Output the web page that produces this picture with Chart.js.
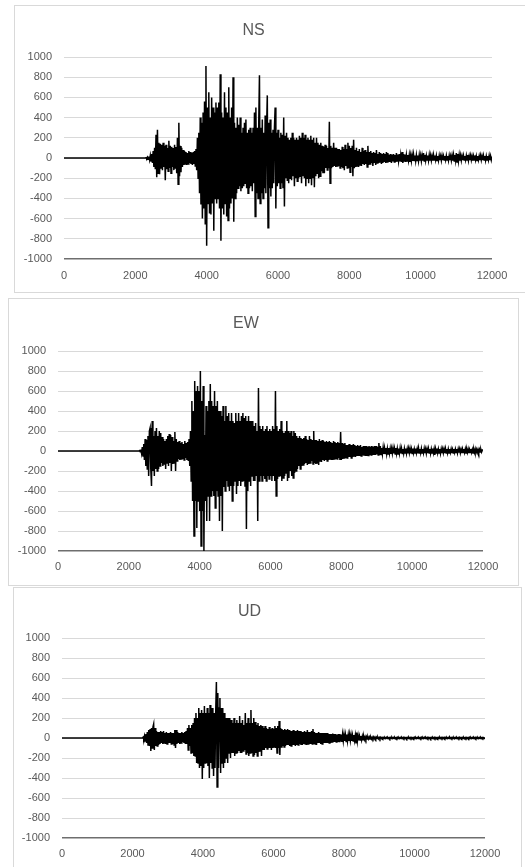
<!DOCTYPE html>
<html><head><meta charset="utf-8">
<script src="https://cdn.jsdelivr.net/npm/chart.js@4"></script>
<style>
html,body{margin:0;padding:0;background:#fff;overflow:hidden;width:525px;height:867px;}
.box{position:absolute;border:1px solid #d9d9d9;background:#fff;}
.box canvas{display:block;}
</style></head><body>
<div class="box" style="left:14px;top:5px;"><canvas id="c1" width="520" height="286"></canvas></div>
<div class="box" style="left:8px;top:298px;"><canvas id="c2" width="509" height="286"></canvas></div>
<div class="box" style="left:13px;top:587px;"><canvas id="c3" width="507" height="286"></canvas></div>
<script>
// ---- data ----
const titles = ["NS", "EW", "UD"];
const xTickRange = [0, 12000, 2000];     // min, max, step
const yTickRange = [-1000, 1000, 200];   // min, max, step
const sampleStart = 2280;                // time of first listed sample (before it the trace is 0)
const sampleStep = 20;                   // time between listed samples

const nsValues = [
  0, 3, -5, 8, -12, 15, -20, 25, -30, 40,
  -50, 70, -90, 100, -110, 230, -190, 280, -150, 150,
  -160, 140, -100, 130, -120, 150, -90, 120, -220, 130,
  -110, 100, -130, 170, -100, 120, -150, 110, -90, 100,
  -120, 130, -100, 110, -150, 200, -260, 350, -180, 120,
  -140, 100, -90, 80, -70, 70, -60, 60, -70, 50,
  -60, 70, -50, 60, -60, 50, -70, 60, -60, 70,
  -80, 90, -120, 200, -200, 250, -350, 400, -460, 350,
  -600, 450, -500, 560, -650, 910, -870, 500, -450, 650,
  -550, 400, -560, 600, -450, 500, -720, 450, -400, 550,
  -450, 500, -400, 550, -500, 830, -820, 450, -500, 400,
  -560, 650, -450, 500, -580, 450, -620, 700, -500, 400,
  -450, 500, -400, 800, -630, 350, -400, 300, -350, 400,
  -300, 330, -280, 400, -330, 250, -300, 300, -280, 350,
  -250, 380, -300, 250, -350, 280, -300, 300, -280, 250,
  -330, 300, -250, 450, -580, 500, -350, 300, -400, 350,
  820, -450, 300, -350, 380, -400, 250, -300, 420, -350,
  300, 620, -690, 350, -300, 380, -380, 250, -300, 280,
  -250, 300, 500, -500, 250, -280, 280, -250, 200, -300,
  250, -250, 230, -300, 400, -480, 220, -200, 250, -220,
  200, -250, 180, -200, 200, -220, 250, -180, 200, -280,
  180, -200, 200, -230, 180, -200, 220, -180, 200, -250,
  250, -180, 200, -200, 230, -280, 180, -200, 200, -250,
  180, -200, 220, -270, 180, -200, 200, -290, 150, -180,
  200, -150, 150, -200, 130, -180, 150, -130, 120, -150,
  110, -150, 130, -100, 120, -120, 100, -100, 360, -250,
  120, -100, 100, -90, 150, -80, 100, -90, 100, -80,
  90, -80, 90, -100, 80, -90, 110, -100, 90, -120,
  130, -80, 90, -100, 150, -100, 120, -140, 100, -90,
  120, -180, 180, -100, 80, -90, 100, -80, 70, -90,
  90, -70, 60, -80, 100, -60, 70, -70, 80, -60,
  60, -90, 120, -70, 60, -60, 70, -50, 50, -80,
  60, -50, 50, -70, 80, -50, 40, -50, 60, -40,
  50, -60, 40, -50, 50, -40, 40, -50, 60, -40,
  50, -40, 35, -40, 40, -50, 35, -35, 40, -40,
  30, -40, 50, -30, 35, -30, 40, -35, 30, -40,
  60, -50, 40, -30, 35, -40, 30, -30, 30, -25,
  30, -40, 25, -30, 30, -30, 35, -25, 25, -30,
  30, -25, 25, -30, 30, -25, 25, -30, 25, -25,
  50, -30, 30, -25, 25, -20, 25, -25, 30, -25,
  25, -25, 20, -25, 30, -20, 25, -20, 25, -25,
  20, -25, 25, -20, 20, -25, 25, -20, 20, -20,
  20, -20, 25, -20, 20, -25, 25, -20, 20, -25,
  25, -25, 30, -30, 30, -25, 50, -40, 40, -30,
  30, -25, 25, -25, 20, -20, 25, -20, 20, -20,
  25, -20, 30, -25, 20, -20, 25, -20, 20, -25,
  20, -20, 25, -20, 20, -25, 20, -20, 20, -20,
  25, -20, 20, -20, 25, -20, 20, -25, 20, -20,
  20, -20, 25, -20, 20, -20, 15
];

const ewValues = [
  0, 5, -8, 15, -25, 40, -50, 70, -90, 120,
  -150, 110, -180, 150, -250, 200, 230, -180, -350, 300,
  -200, 150, -250, 200, -180, 230, -200, 150, -180, 200,
  -150, 180, -120, 140, -150, 120, -130, 100, -180, 120,
  -120, 150, -150, 170, -120, 160, -200, 140, -130, 100,
  -120, 190, -200, 120, -100, 90, -80, 100, -90, 80,
  -80, 90, -80, 70, -90, 100, -70, 80, -90, 90,
  -100, 120, -150, 200, -300, 500, -500, 400, -850, 700,
  -500, 600, -770, 650, -500, 600, -600, 800, -950, 500,
  -600, 650, -1000, 160, -500, 450, -700, 400, -450, 500,
  -700, 670, -450, 500, -400, 450, -450, 600, -570, 450,
  -400, 500, -450, 400, -700, 400, -450, 350, -800, 450,
  -360, 300, -400, 450, -300, 350, -350, 380, -400, 300,
  -350, 380, -500, 300, -350, 280, -300, 380, -430, 300,
  -350, 380, -300, 300, -350, 350, -300, 380, -300, 330,
  -350, 350, -780, 300, -400, 350, -300, 300, -350, 300,
  -250, 300, -300, 250, -300, 280, -250, 200, -700, 630,
  -300, 250, -250, 220, -300, 250, -250, 200, -280, 220,
  -300, 250, -250, 200, -280, 220, -250, 200, -300, 250,
  -250, 220, -300, 600, -450, 250, -280, 200, -250, 220,
  -250, 300, -300, 200, -270, 180, -250, 200, -220, 300,
  -300, 200, -270, 180, -200, 200, -250, 150, -270, 200,
  -220, 180, -200, 150, -180, 130, -150, 150, -180, 130,
  -150, 120, -140, 130, -130, 150, -120, 120, -140, 110,
  -130, 150, -120, 120, -100, 110, -130, 200, -120, 110,
  -130, 110, -120, 100, -140, 120, -100, 100, -110, 110,
  -90, 100, -100, 90, -90, 100, -100, 90, -90, 100,
  -80, 90, -90, 80, -90, 100, -80, 90, -80, 80,
  -80, 90, -70, 80, -90, 190, -90, 80, -80, 70,
  -70, 80, -70, 60, -70, 60, -60, 70, -60, 60,
  -70, 60, -60, 70, -50, 60, -60, 50, -50, 60,
  -50, 50, -50, 60, -50, 40, -45, 50, -40, 50,
  -50, 50, -50, 40, -45, 50, -40, 45, -40, 50,
  -40, 45, -40, 50, -40, 50, -35, 40, -40, 80,
  -40, 50, -35, 30, -30, 35, -30, 30, -25, 30,
  -30, 25, -30, 30, -25, 25, -30, 25, -25, 30,
  -25, 25, -30, 30, -25, 25, -30, 25, -25, 30,
  -25, 25, -25, 20, -25, 25, -20, 25, -25, 20,
  -25, 25, -20, 25, -25, 20, -25, 25, -20, 20,
  -20, 25, -20, 20, -25, 30, -20, 20, -20, 25,
  -20, 20, -20, 25, -20, 20, -25, 20, -20, 25,
  -20, 20, -25, 20, -20, 25, -20, 20, -40, 20,
  -20, 25, -20, 20, -20, 20, -25, 20, -20, 20,
  -20, 20, -20, 25, -20, 20, -20, 20, -20, 20,
  -15, 20, -20, 15, -20, 20, -15, 20, -15, 20,
  -20, 20, -15, 20, -20, 15, -20, 20, -15, 20,
  -15, 20, -20, 15, -15, 20, -20, 15, -15, 20,
  -15, 15, -20, 15, -15, 20, -15, 15, -15, 15,
  -15, 15, -10, 15, -10, 10, 10
];

const udValues = [
  0, 8, -12, 20, -30, 40, -50, 60, -70, 80,
  -80, 90, -130, 100, -100, 110, 140, -120, 100, -80,
  70, -80, 60, -70, 60, -60, 70, -50, 60, -60,
  70, -50, 50, -60, 60, -60, 50, -50, 50, -50,
  60, -60, 50, -60, 50, -70, 80, -100, 80, -60,
  60, -50, 50, -60, 50, -50, 60, -40, 50, -50,
  60, -60, 70, -60, 100, -120, 130, -80, 100, -150,
  130, -150, 150, -180, 200, -180, 250, -250, 200, -250,
  300, -300, 250, -280, 280, -410, 250, -300, 320, -250,
  250, -250, 300, -280, 250, -400, 330, -250, 300, -300,
  300, -380, 250, -300, 250, 560, -490, 450, -300, 300,
  400, -350, 300, -250, 300, -300, 250, -250, 200, -200,
  200, -250, 200, -150, 200, -200, 180, -150, 150, -150,
  200, -180, 150, -150, 180, -150, 150, -130, 220, -150,
  150, -150, 180, -130, 130, -120, 250, -160, 150, -150,
  200, -180, 150, -150, 280, -150, 150, -180, 200, -170,
  160, -150, 130, -180, 150, -140, 120, -130, 130, -180,
  120, -120, 100, -120, 120, -100, 100, -110, 90, -100,
  110, -100, 90, -120, 100, -100, 90, -90, 120, -100,
  100, -150, 120, -100, 170, -170, 100, -90, 90, -80,
  80, -90, 90, -80, 80, -70, 90, -70, 80, -80,
  70, -80, 70, -70, 80, -70, 70, -80, 70, -70,
  80, -70, 70, -60, 70, -70, 60, -70, 60, -60,
  70, -60, 60, -70, 80, -60, 60, -60, 60, -60,
  70, -60, 90, -60, 60, -60, 50, -70, 50, -50,
  60, -50, 50, -60, 50, -60, 50, -50, 50, -50,
  50, -50, 50, -50, 40, -50, 40, -50, 40, -40,
  45, -40, 40, -40, 40, -40, 35, -40, 40, -35,
  40, -35, 35, -40, 35, -30, 35, -30, 30, -35,
  35, -30, 30, -30, 35, -25, 30, -30, 25, -30,
  30, -25, 25, -55, 55, -30, 25, -25, 20, -20,
  20, -20, 18, -18, 15, -15, 12, -12, 12, -10,
  10, -10, 10, -10, 8, -10, 8, -8, 10, -8,
  8, -8, 8, -6, 8, -8, 6, -8, 6, -6,
  6, -5, 5, -6, 5, -5, 6, -5, 5, -5,
  5, -6, 5, -5, 6, -5, 5, -5, 5, -6,
  5, -5, 6, -5, 5, -5, 5, -6, 5, -5,
  6, -5, 5, -5, 5, -6, 5, -5, 6, -5,
  5, -5, 5, -6, 5, -5, 6, -5, 5, -5,
  5, -6, 5, -5, 5, -5, 6, -5, 5, -5,
  6, -5, 5, -5, 6, -5, 5, -5, 5, -6,
  5, -5, 5, -5, 6, -5, 5, -6, 5, -5,
  5, -5, 6, -5, 5, -5, 5, -5, 6, -5,
  5, -6, 5, -5, 5, -5, 6, -5, 5, -5,
  5, -5, 5, -6, 5, -5, 5, -5, 5, -5,
  6, -5, 5, -5, 5, -5, 5, -6, 5, -5,
  5, -5, 5, -5, 6, -5, 5, -5, 5, -5,
  5, -5, 6, -5, 5, -5, 5, -5, 5, -5,
  5, -5, 5, -4, 4, -4, 4
];

// ---- drawing ----
const FONT = "'Liberation Sans', Arial, sans-serif";
const GREY = '#595959';

function toPoints(values) {
  const pts = [{x: xTickRange[0], y: 0}];
  values.forEach((v, i) => pts.push({x: sampleStart + i * sampleStep, y: v}));
  return pts;
}

function makeChart(id, title, values, L) {
  new Chart(document.getElementById(id), {
    type: 'line',
    data: { datasets: [{
      data: toPoints(values),
      borderColor: '#000', borderWidth: 1.5, fill: false,
      pointRadius: 0, tension: 0
    }]},
    options: {
      responsive: false, animation: false, events: [],
      layout: { padding: { left: 0, top: 0, right: L.padR, bottom: L.padB } },
      plugins: {
        legend: { display: false },
        tooltip: { enabled: false },
        title: { display: true, text: title, color: GREY,
                 font: { family: FONT, size: 16, weight: 'normal' },
                 padding: { top: L.tT, bottom: L.tB } }
      },
      scales: {
        x: {
          type: 'linear', min: xTickRange[0], max: xTickRange[1],
          grid: { display: false, drawTicks: true, tickLength: L.xPad },
          border: { display: false },
          ticks: { stepSize: xTickRange[2], color: GREY, padding: 0,
                   font: { family: FONT, size: 11 }, maxRotation: 0,
                   callback: v => String(v) }
        },
        y: {
          min: yTickRange[0], max: yTickRange[1],
          afterFit: s => { s.width = L.yw; },
          grid: { drawTicks: false,
                  color: c => c.tick && c.tick.value === yTickRange[0] ? '#6e6e6e' : '#d9d9d9',
                  lineWidth: c => c.tick && c.tick.value === yTickRange[0] ? 1.5 : 1 },
          border: { display: false },
          ticks: { stepSize: yTickRange[2], color: GREY, padding: 12,
                   font: { family: FONT, size: 11 },
                   callback: v => String(v) }
        }
      }
    }
  });
}

makeChart('c1', titles[0], nsValues, { yw: 49, padR: 43, padB: 9.4, tT: 15.4, tB: 16.4, xPad: 10.4 });
makeChart('c2', titles[1], ewValues, { yw: 49, padR: 35, padB: 11.4, tT: 15.4, tB: 17.4, xPad: 9.4 });
makeChart('c3', titles[2], udValues, { yw: 48, padR: 36, padB: 13.4, tT: 14.4, tB: 16.4, xPad: 9.4 });
</script>
</body></html>
